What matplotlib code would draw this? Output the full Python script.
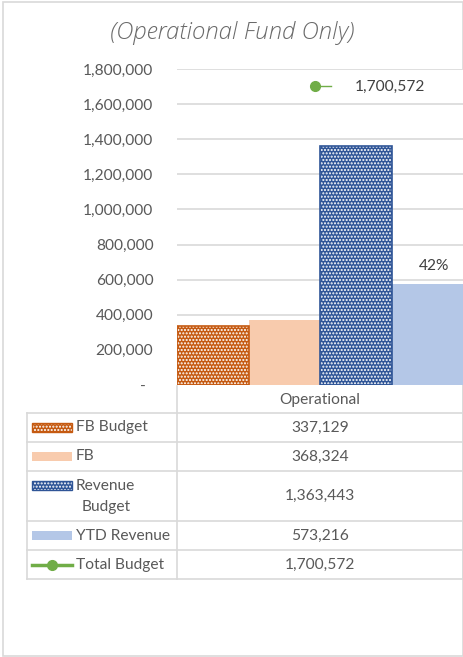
import matplotlib.pyplot as plt
from matplotlib.patches import Rectangle
from matplotlib.lines import Line2D

# data
category = "Operational"
series = ["FB Budget", "FB", "Revenue\nBudget", "YTD Revenue"]
values = [337129, 368324, 1363443, 573216]
total_label = "Total Budget"
total_budget = 1700572
yticks = [0, 200000, 400000, 600000, 800000, 1000000, 1200000, 1400000, 1600000, 1800000]
title = "(Operational Fund Only)"

colors = ["#C55A11", "#F8CBAD", "#2F5597", "#B4C7E7"]
hatched = [True, False, True, False]
green = "#70AD47"
grey_txt = "#595959"
grid_c = "#D9D9D9"
fs = 11.2

plt.rcParams['font.family'] = ['Lato', 'DejaVu Sans']
plt.rcParams['hatch.linewidth'] = 1.0

W, H = 464, 657
fig = plt.figure(figsize=(W / 100, H / 100), dpi=100)

# overlay in pixel coordinates for frame, title and table
ov = fig.add_axes([0, 0, 1, 1])
ov.set_xlim(0, W)
ov.set_ylim(H, 0)
ov.axis("off")
ov.add_patch(Rectangle((3, 2), 460, 654, fill=False, edgecolor=grid_c, lw=1.2))
ov.text(232, 33, title, ha="center", va="center", fontsize=17.3, style="italic",
        fontweight="light", color="#6A6A6A", fontfamily=["Open Sans", "DejaVu Sans"])

# bar chart
x0, x1, ytop, ybot = 177, 463, 69, 385
ax = fig.add_axes([x0 / W, 1 - ybot / H, (x1 - x0) / W, (ybot - ytop) / H])
ax.set_xlim(0, 4)
ax.set_ylim(0, 1800000)
ax.set_yticks(yticks)
ax.set_yticklabels(["-  " if v == 0 else f"{v:,}" for v in yticks], fontsize=fs, color=grey_txt)
ax.tick_params(axis="y", length=0, pad=17)
ax.set_xticks([])
ax.grid(axis="y", color=grid_c, lw=1.2)
ax.set_axisbelow(True)
for s in ax.spines.values():
    s.set_visible(False)

for i, (v, c, h) in enumerate(zip(values, colors, hatched)):
    ax.bar(i, v, width=1, align="edge", color=c, edgecolor="none", zorder=2)
    if h:
        ax.bar(i, v, width=1, align="edge", fill=False, hatch=".....", edgecolor="white", lw=0, zorder=3)
        ax.bar(i, v, width=1, align="edge", fill=False, edgecolor=c, lw=1.2, zorder=4)

# percentage label on YTD revenue
pct = values[3] / values[2]
ax.annotate(f"{pct:.0%}", (3.5, values[3]), xytext=(5, 8), textcoords="offset points",
            ha="center", va="bottom", fontsize=fs, color="#404040")

# total budget marker
ax.plot([1.93, 2.15], [total_budget, total_budget], color=green, lw=1, zorder=5)
ax.plot(1.93, total_budget, marker="o", ms=7, color=green, zorder=6)
ax.annotate(f"{total_budget:,}", (2.15, total_budget), xytext=(17, 0), textcoords="offset points",
            ha="left", va="center", fontsize=fs, color="#404040")

# data table
lc = grid_c
rows_y = [413, 442, 471, 521, 550, 579]
ov.plot([x0, x0], [ybot + 1, rows_y[-1]], color=lc, lw=1.2)
ov.plot([x1, x1], [ybot + 1, rows_y[-1]], color=lc, lw=1.2)
ov.plot([27, 27], [rows_y[0], rows_y[-1]], color=lc, lw=1.2)
for y in rows_y:
    ov.plot([27, x1], [y, y], color=lc, lw=1.2)
ov.text((x0 + x1) / 2, (ybot + rows_y[0]) / 2 + 1, category, ha="center", va="center",
        fontsize=fs, color=grey_txt)

labels = series + [total_label]
vals = values + [total_budget]
for k, (lab, v) in enumerate(zip(labels, vals)):
    top, bot = rows_y[k], rows_y[k + 1]
    mid = (top + bot) / 2
    ov.text((x0 + x1) / 2, mid, f"{v:,}", ha="center", va="center", fontsize=fs, color=grey_txt)
    first = top + 14.5 if "\n" in lab else mid
    if "\n" in lab:
        a, b = lab.split("\n")
        ov.text(76, first, a, ha="left", va="center", fontsize=fs, color=grey_txt)
        ov.text(82, first + 21, b, ha="left", va="center", fontsize=fs, color=grey_txt)
    else:
        ov.text(76, mid, lab, ha="left", va="center", fontsize=fs, color=grey_txt)
    if k < 4:
        ov.add_patch(Rectangle((32, first - 4.5), 40, 9, facecolor=colors[k], edgecolor="none"))
        if hatched[k]:
            ov.add_patch(Rectangle((32, first - 4.5), 40, 9, fill=False, hatch=".....",
                                   edgecolor="white", lw=0))
            ov.add_patch(Rectangle((32, first - 4.5), 40, 9, fill=False, edgecolor=colors[k], lw=1))
    else:
        ov.add_line(Line2D([32, 72], [mid, mid], color=green, lw=2.5))
        ov.plot(52, mid, marker="o", ms=7, color=green)

fig.savefig("out.png", dpi=100)
